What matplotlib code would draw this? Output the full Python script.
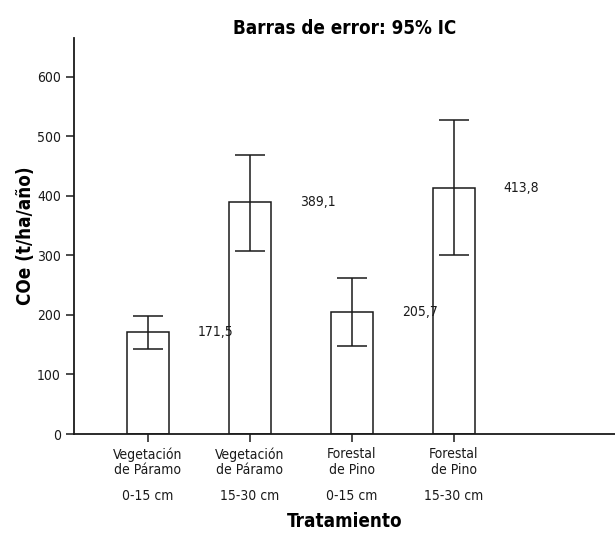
import numpy as np
import matplotlib.pyplot as plt
from matplotlib.transforms import blended_transform_factory

plt.rcParams["font.family"] = ["DejaVu Sans"]
plt.rcParams["font.stretch"] = "condensed"

# data
groups = ["Vegetación\nde Páramo", "Vegetación\nde Páramo", "Forestal\nde Pino", "Forestal\nde Pino"]
depths = ["0-15 cm", "15-30 cm", "0-15 cm", "15-30 cm"]
means = np.array([171.5, 389.1, 205.7, 413.8])
ci_low = np.array([143, 308, 147, 300])
ci_high = np.array([198, 469, 262, 527])

fig = plt.figure(figsize=(6.15, 5.41), dpi=100)
ax = fig.add_axes([74 / 615, 107 / 541, 541 / 615, 396 / 541])

x = np.arange(len(means))
ink = "#1a1a1a"
ax.bar(x, means, width=0.41, color="white", edgecolor=ink, linewidth=1.1, zorder=2)
ax.errorbar(x, means, yerr=[means - ci_low, ci_high - means], fmt="none",
            ecolor=ink, elinewidth=1.1, capsize=10.8, capthick=1.1, zorder=3)

for xi, m in zip(x, means):
    ax.text(xi + 0.49, m, f"{m:.1f}".replace(".", ","), fontsize=10,
            ha="left", va="center", color=ink)

ax.set_xlim(-0.725, 4.58)
ax.set_ylim(0, 665)
ax.set_yticks(np.arange(0, 601, 100))
ax.set_xticks(x)
ax.set_xticklabels(groups, fontsize=10, linespacing=1.15)
trans = blended_transform_factory(ax.transData, ax.transAxes)
for xi, d in zip(x, depths):
    ax.text(xi, -0.14, d, transform=trans, ha="center", va="top", fontsize=10, color=ink)

ax.tick_params(axis="both", colors=ink, labelsize=10, length=6, width=1.1)
for s in ["top", "right"]:
    ax.spines[s].set_visible(False)
for s in ["left", "bottom"]:
    ax.spines[s].set_linewidth(1.3)
    ax.spines[s].set_color(ink)

ax.set_title("Barras de error: 95% IC", fontsize=13.5, fontweight="bold", pad=3)
ax.set_ylabel("COe (t/ha/año)", fontsize=13.5, fontweight="bold", labelpad=1)
ax.set_xlabel("Tratamiento", fontsize=13.5, fontweight="bold", labelpad=25)

fig.savefig("out.png", dpi=100)
